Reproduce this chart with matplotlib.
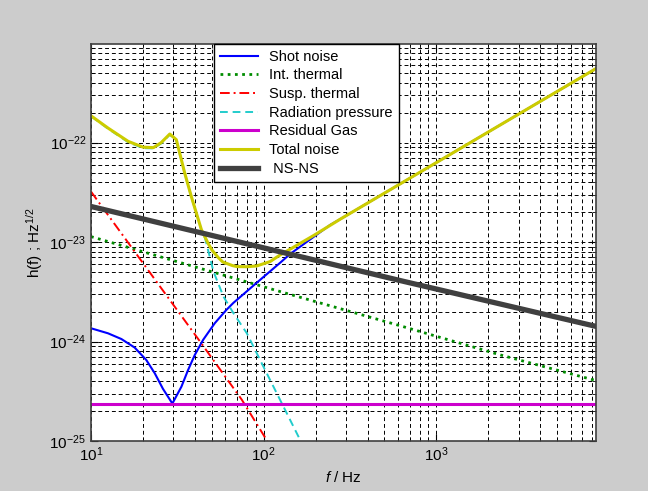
import matplotlib
matplotlib.use("Agg")
import matplotlib.pyplot as plt

plt.rcParams['font.family'] = ['Liberation Sans', 'DejaVu Sans']
plt.rcParams['mathtext.fontset'] = 'custom'
plt.rcParams['mathtext.rm'] = 'Liberation Sans'
plt.rcParams['mathtext.it'] = 'Liberation Sans:italic'
plt.rcParams['axes.unicode_minus'] = False

# values (f in Hz, h in 1/sqrt(Hz))
shot_f = [10, 12.55, 15.0, 17.9, 20.9, 23.4, 26.1, 29.6, 33.4, 36.5, 39.9, 44.6,
          52.1, 60.8, 66.8, 91.3, 124.6, 142.4, 243, 277.6, 8400]
shot_h = [1.36e-24, 1.21e-24, 1.06e-24, 8.7e-25, 6.53e-25, 4.80e-25, 3.35e-25,
          2.38e-25, 3.52e-25, 5.18e-25, 7.33e-25, 1.04e-24, 1.53e-24, 2.08e-24,
          2.45e-24, 3.91e-24, 6.2e-24, 7.6e-24, 1.49e-23, 1.70e-23, 5.55e-22]

int_f = [10, 36.5, 124.6, 618, 2350, 8400]
int_h = [1.135e-23, 5.9e-24, 3.18e-24, 1.44e-24, 7.33e-25, 4.05e-25]

susp_f = [10, 42.8, 74.7, 103.4, 108]
susp_h = [3.22e-23, 1.0e-24, 2.6e-25, 1.04e-25, 9.0e-26]

rad_f = [10, 12.55, 16.4, 20, 23, 25.5, 28.6, 31.2, 34.9, 38.1, 43.6, 45.8,
         51.2, 58.5, 66.8, 79.9, 99.7, 124.6, 162.8, 170]
rad_h = [1.84e-22, 1.38e-22, 1.01e-22, 8.8e-23, 8.75e-23, 9.8e-23, 1.2e-22,
         1.05e-22, 4.9e-23, 2.85e-23, 1.32e-23, 1.09e-23, 5.05e-24, 2.83e-24,
         1.93e-24, 1.21e-24, 5.58e-25, 2.58e-25, 1.02e-25, 8.8e-26]

gas_f = [10, 8400]
gas_h = [2.35e-25, 2.35e-25]

total_f = [10, 12.55, 16.4, 20, 23, 25.5, 28.6, 31.2, 34.9, 38.1, 43.6, 47.6,
           50.1, 54.5, 58, 66, 70, 80, 91.3, 109, 124.6, 142.4, 194, 277.6, 8400]
total_h = [1.86e-22, 1.40e-22, 1.03e-22, 9.0e-23, 8.9e-23, 1.0e-22, 1.22e-22,
           1.07e-22, 4.93e-23, 2.87e-23, 1.33e-23, 9.75e-24, 8.34e-24, 7.0e-24,
           6.3e-24, 5.8e-24, 5.67e-24, 5.65e-24, 5.76e-24, 6.37e-24, 7.43e-24,
           8.49e-24, 1.16e-23, 1.70e-23, 5.55e-22]

nsns_f = [10, 618, 8400]
nsns_h = [2.28e-23, 4.10e-24, 1.42e-24]

y_major = [1e-25, 1e-24, 1e-23, 1e-22]
x_major = [10, 100, 1000]

fig = plt.figure(figsize=(6.48, 4.91), dpi=100, facecolor='#cccccc')
ax = fig.add_axes([0.1404, 0.1018, 0.7794, 0.8086])

ax.loglog(shot_f, shot_h, color='#0000ff', lw=1.5, label='Shot noise')
ax.loglog(int_f, int_h, color='#008c00', lw=2, ls=(0, (1, 1.6)), label='Int. thermal')
ax.loglog(susp_f, susp_h, color='#ff0000', lw=1.4, ls=(0, (5, 2, 1, 2)), label='Susp. thermal')
ax.loglog(rad_f, rad_h, color='#22cccc', lw=1.4, ls=(0, (4, 2.5)), label='Radiation pressure')
ax.loglog(gas_f, gas_h, color='#cc00cc', lw=2.2, label='Residual Gas')
ax.loglog(total_f, total_h, color='#cccc00', lw=2.2, label='Total noise')
ax.loglog(nsns_f, nsns_h, color='#404040', lw=3.8, label=' NS-NS')

ax.set_xticks(x_major)
ax.set_yticks(y_major)
ax.set_xlim(10, 8400)
ax.set_ylim(1e-25, 9.8e-22)

ax.grid(True, which='both', color='black', lw=0.7, ls=(0, (4, 3)))
ax.tick_params(which='both', direction='in', top=True, right=True, labelsize=11)
ax.tick_params(which='major', length=5)
ax.tick_params(which='minor', length=3)
for s in ax.spines.values():
    s.set_color('#404040')
    s.set_linewidth(1.2)

ax.set_xlabel('$\\it{f}$ / Hz', fontsize=11)
ax.set_ylabel('h(f) ; Hz$^{1/2}$', fontsize=11)
ax.yaxis.set_label_coords(-0.092, 0.5)

leg = ax.legend(loc='upper left', bbox_to_anchor=(0.2436, 1.0), fontsize=10.5,
                fancybox=False, framealpha=1, edgecolor='black',
                handlelength=2.6, labelspacing=0.32, borderaxespad=0)
leg.get_frame().set_linewidth(1.0)

fig.savefig('out.png', dpi=100, facecolor=fig.get_facecolor())
